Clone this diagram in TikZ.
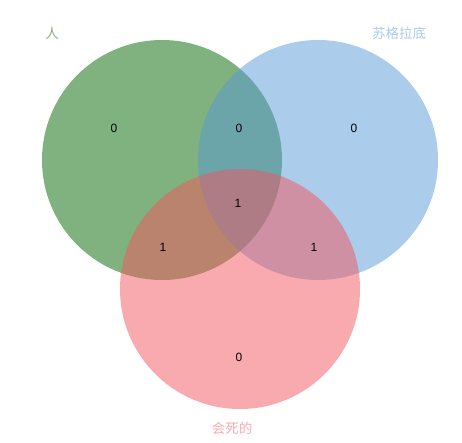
\documentclass[tikz,border=0pt]{standalone}
\usepackage{fontspec}
\setmainfont{Liberation Sans}
\newfontfamily\cjk{Noto Sans CJK SC}
\usepackage{xcolor}
\usepackage{tikz}
\definecolor{rengreen}{RGB}{0,101,0}
\definecolor{sublue}{RGB}{87,153,213}
\definecolor{sipink}{RGB}{243,85,95}
\tikzset{
	setnode/.style={circle, minimum size=240pt, inner sep=0pt, fill opacity=0.5},
	countnode/.style={font=\fontsize{12}{12}\selectfont, text=black},
	namenode/.style={font=\cjk\fontsize{13.5}{14}\selectfont}
}
\begin{document}
\begin{tikzpicture}[x=1pt, y=-1pt]
		\useasboundingbox (0,0) rectangle (462,442);
		%Sets
		\node[setnode, fill=rengreen] at (162,160) (ren)    {};
		\node[setnode, fill=sublue] at (318,160) (su)    {};
		\node[setnode, fill=sipink] at (240,289) (si)    {};
		%Names
		\node[namenode, text=rengreen!50] at (52,33) (renname)    {人};
		\node[namenode, text=sublue!50] at (399,33) (suname)    {苏格拉底};
		\node[namenode, text=sipink!50] at (232,428) (siname)    {会死的};
		%Counts
		\node[countnode] at (114,128) (n1)    {0};
		\node[countnode] at (239,128) (n12)    {0};
		\node[countnode] at (354,128) (n2)    {0};
		\node[countnode] at (238,203) (n123)    {1};
		\node[countnode] at (163,247) (n13)    {1};
		\node[countnode] at (314,247) (n23)    {1};
		\node[countnode] at (239,357) (n3)    {0};
	\end{tikzpicture}
\end{document}
